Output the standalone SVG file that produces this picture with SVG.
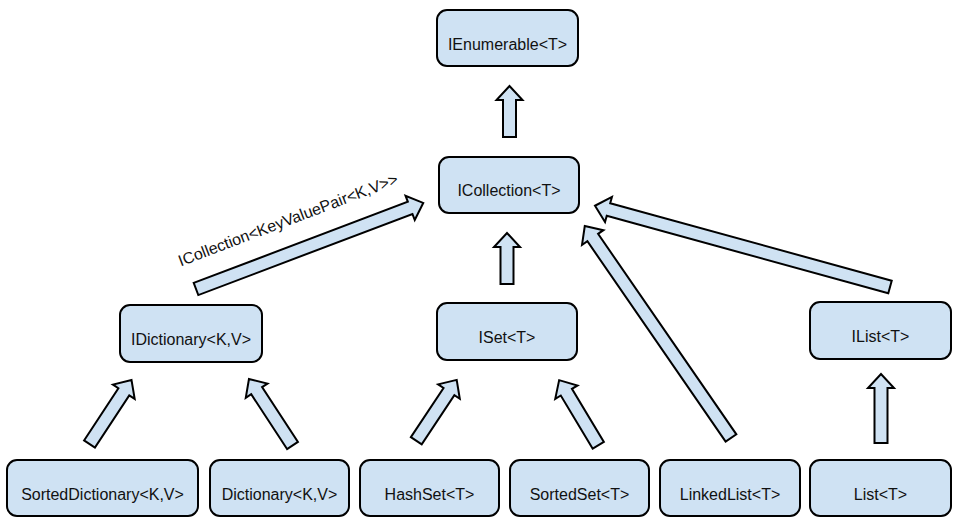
<svg xmlns="http://www.w3.org/2000/svg" width="958" height="530" viewBox="0 0 958 530">
<style>
.box{fill:#cfe2f3;stroke:#000;stroke-width:2}
.lbl{font-family:"Liberation Sans",Arial,sans-serif;font-size:16px;fill:#111;text-anchor:middle}
.arr{fill:#cfe2f3;stroke:#000;stroke-width:2;stroke-linejoin:miter}
</style>
<rect width="958" height="530" fill="#fff"/>
<g id="connectors">
<polygon class="arr" transform="translate(509.5,137) rotate(-90)" points="0,-6.5 37,-6.5 37,-13 51,0 37,13 37,6.5 0,6.5"/>
<polygon class="arr" transform="translate(507,284) rotate(-90)" points="0,-6.5 37,-6.5 37,-13 51,0 37,13 37,6.5 0,6.5"/>
<polygon class="arr" transform="translate(881,443) rotate(-90)" points="0,-6.5 55,-6.5 55,-13 69,0 55,13 55,6.5 0,6.5"/>
<polygon class="arr" transform="translate(196,289) rotate(-20.75)" points="0,-6.5 229,-6.5 229,-13 243,0 229,13 229,6.5 0,6.5"/>
<polygon class="arr" transform="translate(89.5,444) rotate(-56.7)" points="0,-6.5 62.5,-6.5 62.5,-13 76.5,0 62.5,13 62.5,6.5 0,6.5"/>
<polygon class="arr" transform="translate(292.5,445.5) rotate(-123.2)" points="0,-6.5 65.5,-6.5 65.5,-13 79.5,0 65.5,13 65.5,6.5 0,6.5"/>
<polygon class="arr" transform="translate(416.3,440.7) rotate(-56.4)" points="0,-6.5 59,-6.5 59,-13 73,0 59,13 59,6.5 0,6.5"/>
<polygon class="arr" transform="translate(598.3,445.3) rotate(-121)" points="0,-6.5 62,-6.5 62,-13 76,0 62,13 62,6.5 0,6.5"/>
<polygon class="arr" transform="translate(731,438) rotate(-124.6)" points="0,-6.5 243.5,-6.5 243.5,-13 257.5,0 243.5,13 243.5,6.5 0,6.5"/>
<polygon class="arr" transform="translate(890,287) rotate(-164.6)" points="0,-6.5 292,-6.5 292,-13 306,0 292,13 292,6.5 0,6.5"/>
<text class="lbl" transform="translate(290,225) rotate(-20.8)">ICollection&lt;KeyValuePair&lt;K,V&gt;&gt;</text>
</g>
<g id="IEnumerable"><rect class="box" x="437" y="10" width="141" height="56" rx="10"/><text class="lbl" x="507.5" y="50">IEnumerable&lt;T&gt;</text></g>
<g id="ICollection"><rect class="box" x="439" y="157" width="140" height="56" rx="10"/><text class="lbl" x="509" y="196">ICollection&lt;T&gt;</text></g>
<g id="IDictionary"><rect class="box" x="120" y="305" width="142" height="57" rx="10"/><text class="lbl" x="191" y="345">IDictionary&lt;K,V&gt;</text></g>
<g id="ISet"><rect class="box" x="437" y="303" width="140" height="57" rx="10"/><text class="lbl" x="507" y="343">ISet&lt;T&gt;</text></g>
<g id="IList"><rect class="box" x="810" y="302" width="141" height="57" rx="10"/><text class="lbl" x="880.5" y="342">IList&lt;T&gt;</text></g>
<g id="SortedDictionary"><rect class="box" x="7" y="460" width="191" height="56" rx="10"/><text class="lbl" x="102.5" y="500">SortedDictionary&lt;K,V&gt;</text></g>
<g id="Dictionary"><rect class="box" x="210" y="460" width="139" height="56" rx="10"/><text class="lbl" x="279.5" y="500">Dictionary&lt;K,V&gt;</text></g>
<g id="HashSet"><rect class="box" x="360" y="460" width="139" height="56" rx="10"/><text class="lbl" x="429.5" y="500">HashSet&lt;T&gt;</text></g>
<g id="SortedSet"><rect class="box" x="510" y="460" width="139" height="56" rx="10"/><text class="lbl" x="579.5" y="500">SortedSet&lt;T&gt;</text></g>
<g id="LinkedList"><rect class="box" x="660" y="460" width="140" height="56" rx="10"/><text class="lbl" x="730" y="500">LinkedList&lt;T&gt;</text></g>
<g id="List"><rect class="box" x="810" y="460" width="141" height="56" rx="10"/><text class="lbl" x="880.5" y="500">List&lt;T&gt;</text></g>
</svg>
